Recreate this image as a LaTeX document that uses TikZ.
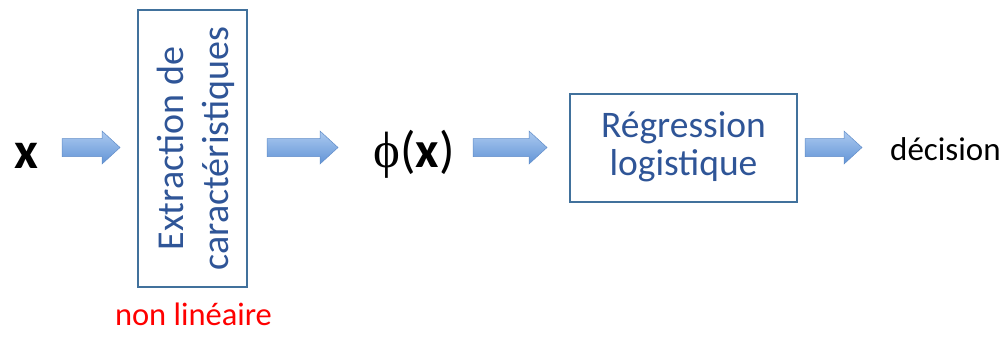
\documentclass[tikz,border=0pt]{standalone}
\usepackage{fontspec}
\setmainfont{Carlito}
\newfontfamily\phifont{Liberation Serif}
\definecolor{boxline}{RGB}{65,113,156}
\definecolor{boxtext}{RGB}{47,85,151}
\definecolor{arrtop}{RGB}{172,202,240}
\definecolor{arrbot}{RGB}{98,148,214}
\definecolor{arrline}{RGB}{96,140,200}
\definecolor{redtxt}{RGB}{255,0,0}
\tikzset{
  procbox/.style={draw=boxline, line width=1.3pt, inner sep=0pt},
  boxlabel/.style={text=boxtext, align=center, inner sep=0pt},
  arrowshape/.style={top color=arrtop, bottom color=arrbot, draw=arrline, line width=0.5pt, line join=miter},
}
\newcommand\blockarrow[3]{% x start, x end, y centre (pixel coords)
  \path[arrowshape] (#1,#3-9) -- (#2-18,#3-9) -- (#2-18,#3-16.5) -- (#2,#3)
    -- (#2-18,#3+16.5) -- (#2-18,#3+9) -- (#1,#3+9) -- cycle;}
\begin{document}
\begin{tikzpicture}[x=1pt,y=-1pt]
\useasboundingbox (0,0) rectangle (1004,337);
% input
\node[anchor=base, inner sep=0pt, font=\fontsize{52}{56}\selectfont\bfseries] (xin) at (26,168) {x};
% feature extraction box
\node[procbox, minimum width=109pt, minimum height=277pt] (feat) at (192.5,148.5) {};
\node[boxlabel, rotate=90, font=\fontsize{38}{45}\selectfont] (featlbl) at ([xshift=3pt]feat.center) {Extraction de\\caractéristiques};
\node[anchor=base, inner sep=0pt, text=redtxt, font=\fontsize{32.5}{36}\selectfont] (nonlin) at (193.5,325) {non linéaire};
% phi(x)
\node[anchor=base, inner sep=0pt, font=\fontsize{51}{56}\selectfont] (phix) at (414,167) {{\phifont ϕ}(\textbf{x})};
% regression box
\node[procbox, minimum width=227pt, minimum height=108pt] (reg) at (683.5,148) {};
\node[boxlabel, font=\fontsize{37.5}{38}\selectfont] (reglbl) at ([yshift=1.5pt]reg.center) {Régression\\logistique};
% output
\node[anchor=base west, inner sep=0pt, font=\fontsize{33}{36}\selectfont] (dec) at (890,160) {décision};
% block arrows
\blockarrow{62}{120}{147.5}
\blockarrow{267}{338}{147.5}
\blockarrow{473}{547}{147.5}
\blockarrow{805}{862}{147.5}
\end{tikzpicture}
\end{document}
